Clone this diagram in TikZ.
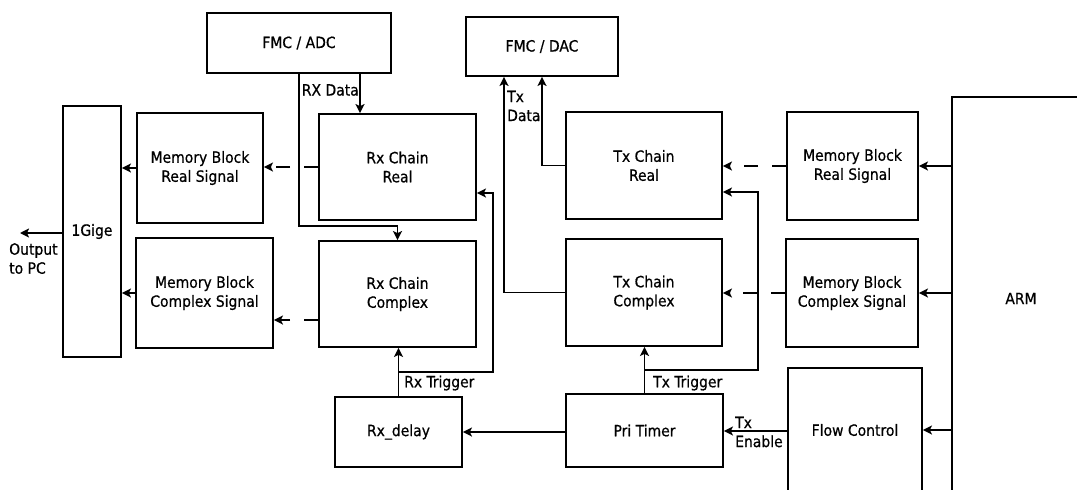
\documentclass[tikz,border=0pt]{standalone}
\usepackage{fontspec}
\setmainfont{DejaVu Sans Condensed}[UprightFeatures={FakeBold=0.6}]
\usetikzlibrary{arrows.meta}
\begin{document}
\begin{tikzpicture}[x=1pt,y=-1pt,
  box/.style={draw,line width=1.8pt,inner sep=0pt,align=center,font=\fontsize{15.5}{19}\selectfont},
  lbl/.style={inner sep=0pt,align=left,font=\fontsize{15.5}{19}\selectfont},
  arr/.style={line width=1.8pt,-{Stealth[length=9pt,width=9pt,inset=2pt]}},
  darr/.style={arr,dash pattern=on 14pt off 14pt}]
\useasboundingbox (0,0) rectangle (1077,490);
\clip (0,0) rectangle (1077,490);
% boxes
\node[box,minimum width=184pt,minimum height=60pt] (adc) at (299,43) {FMC / ADC};
\node[box,minimum width=152pt,minimum height=59pt] (dac) at (542,46.5) {FMC / DAC};
\node[box,minimum width=157pt,minimum height=106pt] (rxr) at (397.5,167) {Rx Chain\\Real};
\node[box,minimum width=157pt,minimum height=106pt] (rxc) at (397.5,294) {Rx Chain\\Complex};
\node[box,minimum width=127pt,minimum height=70pt] (rxd) at (398.5,432) {Rx\_delay};
\node[box,minimum width=156pt,minimum height=107pt] (txr) at (644,165.5) {Tx Chain\\Real};
\node[box,minimum width=156pt,minimum height=107pt] (txc) at (644,292.5) {Tx Chain\\Complex};
\node[box,minimum width=157pt,minimum height=73pt] (pri) at (644.5,430.5) {Pri Timer};
\node[box,minimum width=131pt,minimum height=108pt] (mrr) at (852.5,166) {Memory Block\\Real Signal};
\node[box,minimum width=132pt,minimum height=108pt] (mrc) at (852,293) {Memory Block\\Complex Signal};
\node[box,minimum width=134pt,minimum height=124pt] (flow) at (855,430) {Flow Control};
\node[box,minimum width=138pt,minimum height=403pt] (arm) at (1021,298.5) {ARM};
\node[box,minimum width=58pt,minimum height=251pt] (gige) at (92,231.5) {1Gige};
\node[box,minimum width=126pt,minimum height=110pt] (mlr) at (200,168) {Memory Block\\Real Signal};
\node[box,minimum width=137pt,minimum height=110pt] (mlc) at (204.5,293) {Memory Block\\Complex Signal};
% helper coordinates
\coordinate (xa) at (360,0);
\coordinate (yb) at (0,226);
\coordinate (yc) at (0,320);
\coordinate (out) at (20,233);
\coordinate (rt) at (493,372);
\coordinate (ry) at (0,193);
\coordinate (yd) at (0,432);
\coordinate (tt) at (758,370);
\coordinate (ty) at (0,192);
\coordinate (ye) at (0,431);
\coordinate (xt1) at (542,0);
\coordinate (xt2) at (504,0);
% Rx side
\draw[arr] (adc.south -| xa) -- (rxr.north -| xa);
\node[lbl,anchor=east] (rxdata) at (359,90) {RX Data};
\draw[arr] (adc.south) -- (adc.south |- yb) -| (rxc.north);
\draw[darr] (rxr.west) -- (rxr.west -| mlr.east);
\draw[darr] (rxc.west |- yc) -- (mlc.east |- yc);
\draw[arr] (mlr.west) -- (mlr.west -| gige.east);
\draw[arr] (mlc.west) -- (mlc.west -| gige.east);
\draw[arr] (gige.west |- out) -- (out);
\node[lbl,anchor=north west] (outlbl) at (9,243) {Output\\to PC};
\draw[arr] (rxd.north) -- (rxd.north |- rxc.south);
\draw[arr] (rxd.north |- rt) -- (rt) |- (rxr.east |- ry);
\node[lbl,anchor=west] (rxtrig) at (404,383) {Rx Trigger};
\draw[arr] (pri.west |- yd) -- (rxd.east |- yd);
% Tx side
\draw[arr] (pri.north) -- (pri.north |- txc.south);
\draw[arr] (pri.north |- tt) -- (tt) |- (txr.east |- ty);
\node[lbl,anchor=west] (txtrig) at (653,383) {Tx Trigger};
\draw[arr] (flow.west |- ye) -- (pri.east |- ye);
\node[lbl,anchor=west] (txen) at (735,432) {Tx\\Enable};
\draw[darr] (mrr.west) -- (mrr.west -| txr.east);
\draw[darr] (mrc.west) -- (mrc.west -| txc.east);
\draw[arr] (arm.west |- mrr.east) -- (mrr.east);
\draw[arr] (arm.west |- mrc.east) -- (mrc.east);
\draw[arr] (arm.west |- flow.east) -- (flow.east);
\draw[arr] (txr.west) -- (txr.west -| xt1) -- (dac.south -| xt1);
\draw[arr] (txc.west) -- (txc.west -| xt2) -- (dac.south -| xt2);
\node[lbl,anchor=west] (txdata) at (507,106) {Tx\\Data};
\end{tikzpicture}
\end{document}
